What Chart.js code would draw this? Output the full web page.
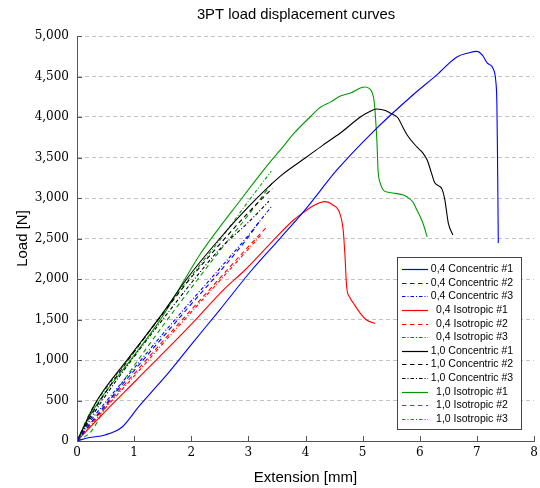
<!DOCTYPE html>
<html>
<head>
<meta charset="utf-8">
<script src="https://cdn.jsdelivr.net/npm/chart.js@4"></script>
<style>
  body { margin: 0; background: #fff; }
  canvas { display: block; }
</style>
</head>
<body>
<canvas id="chart3pt" width="540" height="488"></canvas>
<script>
// ### data (extension in mm, load in N)
const labels = ['0,4 Concentric #1', '0,4 Concentric #2', '0,4 Concentric #3',
    '0,4 Isotropic #1', '0,4 Isotropic #2', '0,4 Isotropic #3',
    '1,0 Concentric #1', '1,0 Concentric #2', '1,0 Concentric #3',
    '1,0 Isotropic #1', '1,0 Isotropic #2', '1,0 Isotropic #3']

const xTicks = [0, 1, 2, 3, 4, 5, 6, 7, 8]
const yTicks = [0, 500, 1000, 1500, 2000, 2500, 3000, 3500, 4000, 4500, 5000]

const extC04_1 = [0, 0.2, 0.49, 0.79, 1.08, 1.3, 1.6, 2.0, 2.5, 3.06, 3.56, 4.0, 4.55, 5.2, 5.88, 6.3, 6.65, 6.85, 7.0, 7.1, 7.18, 7.29, 7.33, 7.35, 7.36, 7.368, 7.375]
const loadC04_1 = [0, 40, 74, 173, 424, 600, 840, 1190, 1620, 2111, 2506, 2860, 3346, 3830, 4272, 4520, 4741, 4790, 4810, 4760, 4667, 4590, 4450, 4173, 3600, 3000, 2444]

const extC04_2 = [0, 0.25, 0.5, 1, 1.5, 2, 2.5, 3, 3.2]
const loadC04_2 = [0, 230, 450, 870, 1280, 1690, 2090, 2520, 2720]

const extC04_3 = [0, 0.25, 0.5, 1, 1.5, 2, 2.5, 3, 3.4]
const loadC04_3 = [0, 260, 480, 900, 1320, 1730, 2130, 2540, 2890]

const extI04_1 = [0, 0.5, 1.04, 2.0, 2.56, 2.94, 3.4, 3.79, 4.0, 4.15, 4.34, 4.48, 4.6, 4.66, 4.69, 4.72, 4.77, 4.84, 4.96, 5.07, 5.22]
const loadI04_1 = [0, 370, 753, 1440, 1864, 2111, 2450, 2728, 2840, 2910, 2955, 2914, 2811, 2600, 2300, 1905, 1781, 1700, 1576, 1494, 1450]

const extI04_2 = [0, 0.25, 0.5, 1, 1.5, 2, 2.5, 3, 3.32]
const loadI04_2 = [0, 220, 430, 830, 1230, 1620, 2010, 2400, 2640]

const extI04_3 = [0, 0.25, 0.5, 1, 1.5, 2, 2.5, 3, 3.22]
const loadI04_3 = [0, 200, 410, 800, 1200, 1590, 1980, 2370, 2540]

const extC10_1 = [0, 0.35, 0.875, 1.45, 1.92, 2.5, 3.0, 3.56, 4.02, 4.3, 4.61, 4.96, 5.1, 5.25, 5.4, 5.48, 5.62, 5.7, 5.78, 5.95, 6.05, 6.13, 6.2, 6.26, 6.33, 6.39, 6.44, 6.5, 6.58]
const loadC10_1 = [0, 500, 1000, 1530, 2000, 2500, 2890, 3270, 3506, 3650, 3802, 4000, 4060, 4099, 4080, 4049, 3988, 3880, 3778, 3630, 3560, 3469, 3320, 3190, 3150, 3110, 2975, 2691, 2543]

const extC10_2 = [0, 0.25, 0.5, 1, 1.5, 2, 2.5, 3, 3.42]
const loadC10_2 = [0, 320, 600, 1100, 1570, 2020, 2430, 2820, 3120]

const extC10_3 = [0, 0.25, 0.5, 1, 1.5, 2, 2.5, 3, 3.36]
const loadC10_3 = [0, 290, 560, 1040, 1500, 1950, 2370, 2700, 2960]

const extI10_1 = [0, 0.3, 0.96, 1.48, 1.89, 2.15, 2.89, 3.41, 3.56, 3.8, 4.08, 4.26, 4.45, 4.61, 4.8, 4.96, 5.04, 5.12, 5.17, 5.2, 5.22, 5.25, 5.27, 5.31, 5.36, 5.45, 5.53, 5.7, 5.78, 5.88, 5.95, 6.05, 6.13]
const loadI10_1 = [0, 400, 1020, 1520, 2000, 2300, 3000, 3470, 3593, 3800, 4000, 4120, 4190, 4259, 4300, 4358, 4370, 4350, 4296, 4200, 4049, 3700, 3346, 3180, 3099, 3070, 3062, 3040, 3012, 2950, 2852, 2700, 2519]

const extI10_2 = [0, 0.25, 0.5, 1, 1.5, 2, 2.5, 3, 3.42]
const loadI10_2 = [0, 120, 420, 930, 1420, 1890, 2350, 2790, 3190]

const extI10_3 = [0, 0.25, 0.5, 1, 1.5, 2, 2.5, 3, 3.4]
const loadI10_3 = [0, 380, 640, 1100, 1580, 2040, 2480, 2960, 3330]

// ### styles
const BLUE = '#0000ff', RED = '#ff0000', BLACK = '#000000', GREEN = '#009a00'
const DASHED = [4.5, 3.5]
const DASHDOT = [3.5, 2, 1, 2]

function series(label, ext, load, color, dash) {
    return {
        label: label,
        data: ext.map((x, i) => ({ x: x, y: load[i] })),
        borderColor: color,
        backgroundColor: color,
        borderWidth: 1.1,
        borderDash: dash,
        pointRadius: 0,
        fill: false,
        cubicInterpolationMode: 'monotone'
    }
}

const datasets = [
    series(labels[0], extC04_1, loadC04_1, BLUE, []),
    series(labels[1], extC04_2, loadC04_2, BLUE, DASHED),
    series(labels[2], extC04_3, loadC04_3, BLUE, DASHDOT),
    series(labels[3], extI04_1, loadI04_1, RED, []),
    series(labels[4], extI04_2, loadI04_2, RED, DASHED),
    series(labels[5], extI04_3, loadI04_3, RED, DASHDOT),
    series(labels[6], extC10_1, loadC10_1, BLACK, []),
    series(labels[7], extC10_2, loadC10_2, BLACK, DASHED),
    series(labels[8], extC10_3, loadC10_3, BLACK, DASHDOT),
    series(labels[9], extI10_1, loadI10_1, GREEN, []),
    series(labels[10], extI10_2, loadI10_2, GREEN, DASHED),
    series(labels[11], extI10_3, loadI10_3, GREEN, DASHDOT)
]

const SANS = '"Liberation Sans", Arial, Helvetica, sans-serif'
const SERIF = '"DejaVu Serif", "Liberation Serif", serif'

// ### ticks inside the axes, boxed legend and title
const decorations = {
    id: 'decorations',
    afterDraw(chart) {
        const ctx = chart.ctx
        const a = chart.chartArea
        const xs = chart.scales.x, ys = chart.scales.y
        ctx.save()
        ctx.strokeStyle = '#555'
        ctx.lineWidth = 1
        xTicks.forEach(v => {
            const px = Math.round(xs.getPixelForValue(v)) + 0.5
            ctx.beginPath(); ctx.moveTo(px, a.bottom); ctx.lineTo(px, a.bottom - 5); ctx.stroke()
        })
        yTicks.forEach(v => {
            const py = Math.round(ys.getPixelForValue(v)) + 0.5
            ctx.beginPath(); ctx.moveTo(a.left, py); ctx.lineTo(a.left + 5, py); ctx.stroke()
        })

        // legend
        const w = 124, h = 172
        const x0 = Math.round(a.right - 13 - w), y0 = Math.round(a.bottom - 12 - h)
        ctx.fillStyle = '#fff'
        ctx.fillRect(x0, y0, w, h)
        ctx.strokeStyle = '#444'
        ctx.strokeRect(x0 + 0.5, y0 + 0.5, w, h)
        ctx.font = '10.5px ' + SANS
        ctx.textAlign = 'center'
        ctx.textBaseline = 'middle'
        chart.data.datasets.forEach((ds, i) => {
            const y = Math.round(y0 + 12 + i * 13.64) + 0.5
            ctx.strokeStyle = ds.borderColor
            ctx.lineWidth = 1.2
            ctx.setLineDash(ds.borderDash)
            ctx.beginPath(); ctx.moveTo(x0 + 5, y); ctx.lineTo(x0 + 31, y); ctx.stroke()
            ctx.setLineDash([])
            ctx.fillStyle = '#000'
            ctx.fillText(ds.label, x0 + 75, y)
        })

        // title
        ctx.font = '14.8px ' + SANS
        ctx.fillStyle = '#000'
        ctx.fillText('3PT load displacement curves', 296, 15)
        ctx.restore()
    }
}

const config = {
    type: 'line',
    data: { datasets: datasets },
    options: {
        responsive: false,
        animation: false,
        devicePixelRatio: 1,
        layout: { padding: { top: 36, right: 6, bottom: 0, left: 0 } },
        plugins: {
            legend: { display: false },
            title: { display: false },
            tooltip: { enabled: false }
        },
        scales: {
            x: {
                type: 'linear',
                min: 0,
                max: 8,
                afterFit: s => { s.height = 47; s.paddingRight = 0; s.paddingLeft = 0 },
                afterBuildTicks: s => { s.ticks = xTicks.map(v => ({ value: v })) },
                grid: { display: false, drawTicks: false },
                border: { display: true, color: '#555', width: 1 },
                ticks: { padding: 5, color: '#000', font: { family: SERIF, size: 12 } },
                title: { display: true, text: 'Extension [mm]', color: '#000', font: { family: SANS, size: 15 }, padding: { top: 0, bottom: 1 } }
            },
            y: {
                type: 'linear',
                min: 0,
                max: 5000,
                afterFit: s => { s.width = 77 },
                afterBuildTicks: s => { s.ticks = yTicks.map(v => ({ value: v })) },
                grid: { color: '#c4c4c4', lineWidth: 1, drawTicks: false },
                border: { display: true, color: '#555', width: 1, dash: [4, 3] },
                ticks: {
                    padding: 8, color: '#000', font: { family: SERIF, size: 12 },
                    callback: v => v.toLocaleString('en-US')
                },
                title: { display: true, text: 'Load [N]', color: '#000', font: { family: SANS, size: 15 }, padding: { top: 14, bottom: 0 } }
            }
        }
    },
    plugins: [decorations]
}

new Chart(document.getElementById('chart3pt'), config)
</script>
</body>
</html>
